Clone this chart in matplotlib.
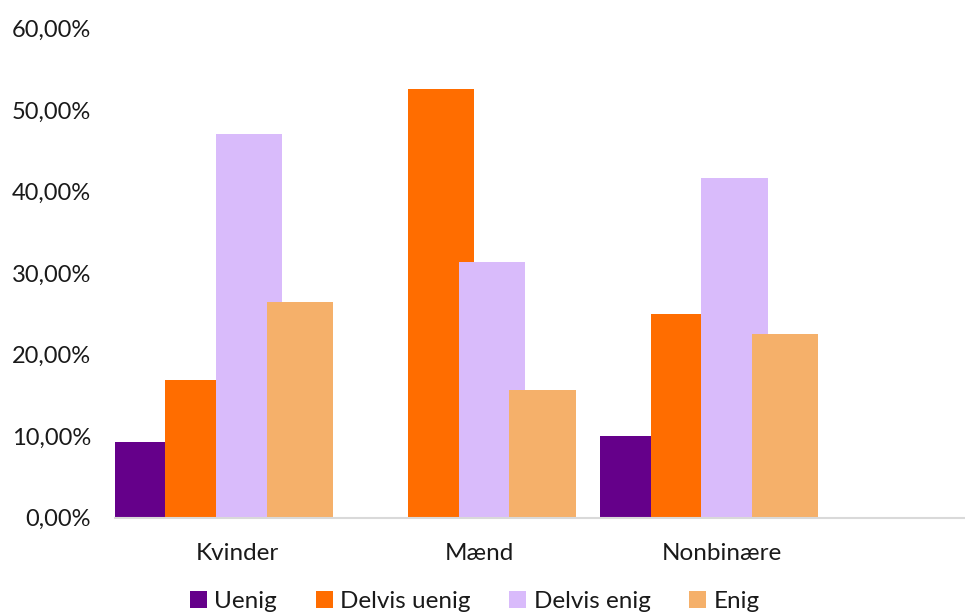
import numpy as np
import matplotlib.pyplot as plt
from matplotlib.ticker import FuncFormatter

plt.rcParams['font.family'] = ['Lato', 'DejaVu Sans']

categories = ['Kvinder', 'Mænd', 'Nonbinære']
series_names = ['Uenig', 'Delvis uenig', 'Delvis enig', 'Enig']
values = {
    'Uenig': [9.3, 0.0, 10.0],
    'Delvis uenig': [16.9, 52.6, 25.0],
    'Delvis enig': [47.1, 31.4, 41.6],
    'Enig': [26.4, 15.7, 22.5],
}
colors = ['#65008a', '#ff6d00', '#d9bbfb', '#f5b06a']

fig = plt.figure(figsize=(9.65, 6.15), dpi=100)
ax = fig.add_axes([0.119, 0.158, 0.881, 0.796])

x = np.arange(len(categories))
step = 0.209
width = 0.273
first = -0.368
for k, name in enumerate(series_names):
    ax.bar(x + first + k * step, values[name], width=width, color=colors[k],
           label=name, linewidth=0)

ax.set_xlim(-0.504, 3.0)
ax.set_ylim(0, 60)
ax.set_yticks(np.arange(0, 61, 10))
ax.yaxis.set_major_formatter(FuncFormatter(lambda v, p: f'{v:.2f}%'.replace('.', ',')))
ax.set_xticks(x)
ax.set_xticklabels(categories)

for s in ['top', 'right', 'left']:
    ax.spines[s].set_visible(False)
ax.spines['bottom'].set_color('#d9d9d9')
ax.spines['bottom'].set_linewidth(1.5)
ax.tick_params(axis='y', length=0, pad=17, labelsize=17, labelcolor='#1a1a1a')
ax.tick_params(axis='x', length=0, pad=18, labelsize=17.5, labelcolor='#1a1a1a')

fig.legend(loc='lower center', bbox_to_anchor=(0.492, -0.03), ncol=4, frameon=False,
           fontsize=17.5, handlelength=0.7, handleheight=0.7, handletextpad=0.3,
           columnspacing=1.6, labelcolor='#1a1a1a')

fig.savefig('out.png', dpi=100)
